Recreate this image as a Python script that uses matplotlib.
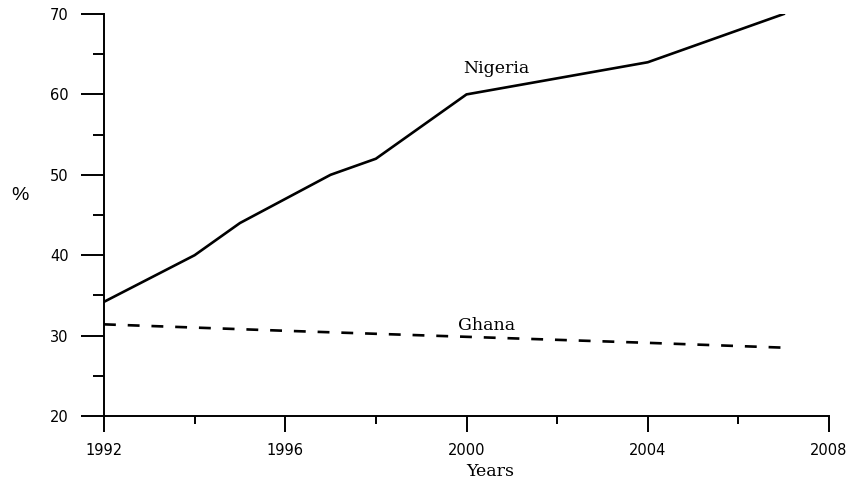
import matplotlib.pyplot as plt
from matplotlib.ticker import MultipleLocator

# share of population (%) by year
nigeria_years = [1992, 1994, 1995, 1997, 1998, 2000, 2004, 2007]
nigeria_pct = [34.2, 40, 44, 50, 52, 60, 64, 70]
ghana_years = [1992, 1996, 2000, 2004, 2007]
ghana_pct = [31.4, 30.6, 29.85, 29.1, 28.5]

fig = plt.figure(figsize=(8.53, 4.83), dpi=100)
ax = fig.add_axes([0.1219, 0.1387, 0.85, 0.8323])

ax.plot(nigeria_years, nigeria_pct, color='black', lw=1.9, solid_joinstyle='miter')
ax.plot(ghana_years, ghana_pct, color='black', lw=1.9, dashes=(4.5, 4.5))

ax.set_xlim(1992, 2008)
ax.set_ylim(20, 70)
ax.xaxis.set_major_locator(MultipleLocator(4))
ax.xaxis.set_minor_locator(MultipleLocator(2))
ax.yaxis.set_major_locator(MultipleLocator(10))
ax.yaxis.set_minor_locator(MultipleLocator(5))

for s in ['top', 'right']:
    ax.spines[s].set_visible(False)
for s in ['left', 'bottom']:
    ax.spines[s].set_linewidth(1.4)

sans = 'DejaVu Sans'
serif = 'DejaVu Serif'
ax.tick_params(axis='y', which='major', direction='out', length=16.5, width=1.4, pad=9)
ax.tick_params(axis='y', which='minor', direction='out', length=8, width=1.4)
ax.tick_params(axis='x', which='major', direction='out', length=11.5, width=1.4, pad=8)
ax.tick_params(axis='x', which='minor', direction='out', length=5.8, width=1.4)
for lab in ax.get_xticklabels() + ax.get_yticklabels():
    lab.set_fontfamily(sans)
    lab.set_fontsize(10.5)

ax.text(2000.65, 63.2, 'Nigeria', family=serif, fontsize=12.5, ha='center', va='center')
ax.text(2000.45, 31.2, 'Ghana', family=serif, fontsize=12.5, ha='center', va='center')

fig.text(20 / 853, 1 - 196 / 483, '%', family='Liberation Sans', fontsize=14, ha='center', va='center')
fig.text(490 / 853, 1 - 472 / 483, 'Years', family=serif, fontsize=12.5, ha='center', va='center')

fig.savefig('out.png', dpi=100)
